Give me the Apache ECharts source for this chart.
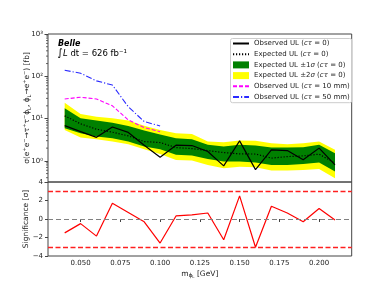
<!DOCTYPE html>
<html>
<head>
<meta charset="utf-8">
<script src="https://cdn.jsdelivr.net/npm/echarts@6/dist/echarts.min.js"></script>
<style>html,body{margin:0;padding:0;background:#fff}#c{width:390px;height:293px}</style>
</head>
<body>
<div id="c"></div>
<script>
const masses = [0.04,0.05,0.06,0.07,0.08,0.09,0.10,0.11,0.12,0.13,0.14,0.15,0.16,0.17,0.18,0.19,0.20,0.21];
const observedUL = [6.8,4.9,3.6,6.3,4.7,2.35,1.22,2.35,2.3,1.66,0.76,2.97,0.62,1.82,1.75,1.06,2.0,0.8];
const expectedUL = [11.6,7.5,5.6,4.76,3.9,2.86,2.71,2.06,1.95,1.75,1.57,1.46,1.45,1.16,1.26,1.31,1.44,0.88];
const exp1sUp = [17.6,10.2,8.95,8.0,6.7,5.2,4.18,3.44,3.26,2.39,2.18,2.39,2.32,2.06,2.06,2.11,2.39,1.52];
const exp1sDn = [5.92,4.5,3.75,3.44,2.86,2.18,1.89,1.39,1.33,1.10,0.96,0.96,0.92,0.80,0.80,0.84,0.91,0.56];
const exp2sUp = [23.8,12.9,11.1,10.2,8.95,6.8,5.4,4.5,4.34,2.86,2.77,3.02,2.97,2.62,2.48,2.62,2.86,1.82];
const exp2sDn = [5.4,3.55,3.26,2.86,2.48,1.89,1.46,1.05,1.02,0.80,0.67,0.73,0.71,0.59,0.59,0.61,0.64,0.39];
const massesLong = [0.04,0.05,0.06,0.07,0.08,0.09,0.10];
const observed10mm = [29,32,29,20,9.3,6.1,4.9];
const observed50mm = [139,118,78,62,19,8.5,6.7];
const significance = [-1.5,-0.5,-1.85,1.7,0.7,-0.3,-2.6,0.33,0.45,0.65,-2.25,2.5,-3.05,1.38,0.65,-0.29,1.13,-0.11];
const xTicks = [0.05,0.075,0.1,0.125,0.15,0.175,0.2];
const yMinorTicks = [0.4,0.5,0.6,0.7,0.8,0.9,2,3,4,5,6,7,8,9,20,30,40,50,60,70,80,90,200,300,400,500,600,700,800,900];
const xMin = 0.0295, xMax = 0.2205;
const yMin = 0.31623, yMax = 1000;

const FONT = 'DejaVu Sans';
const AX = '#444';
const pairs = (xa, ya) => xa.map((x, i) => [x, ya[i]]);
const SUP = ['⁰','¹','²','³'];

const names = {
  obs: 'Observed UL (cτ = 0)',
  exp: 'Expected UL (cτ = 0)',
  s1: 'Expected UL ±1σ (cτ = 0)',
  s2: 'Expected UL ±2σ (cτ = 0)',
  o10: 'Observed UL (cτ = 10 mm)',
  o50: 'Observed UL (cτ = 50 mm)'
};

function band(name, up, dn, color, z) {
  return {
    type: 'custom', name, xAxisIndex: 0, yAxisIndex: 0, z, silent: true,
    itemStyle: { color },
    data: [[masses[0], up[0]]],
    renderItem(params, api) {
      const pts = [];
      for (let i = 0; i < masses.length; i++) pts.push(api.coord([masses[i], up[i]]));
      for (let i = masses.length - 1; i >= 0; i--) pts.push(api.coord([masses[i], dn[i]]));
      return { type: 'polygon', shape: { points: pts }, style: { fill: color } };
    }
  };
}

const noSym = { opacity: 0 };
const chart = echarts.init(document.getElementById('c'), null, { renderer: 'canvas' });
const option = {
  animation: false,
  textStyle: { fontFamily: FONT },
  grid: [
    { left: 48, top: 34, width: 303.7, height: 148, show: true, borderColor: AX, borderWidth: 1, backgroundColor: 'transparent' },
    { left: 48, top: 182, width: 303.7, height: 74, show: true, borderColor: AX, borderWidth: 1, backgroundColor: 'transparent' }
  ],
  xAxis: [
    { gridIndex: 0, type: 'value', min: xMin, max: xMax, axisLabel: { show: false }, axisTick: { show: false }, axisLine: { show: false }, splitLine: { show: false } },
    { gridIndex: 1, type: 'value', min: xMin, max: xMax,
      axisLine: { show: false }, splitLine: { show: false },
      axisTick: { customValues: xTicks, length: 3, lineStyle: { color: AX } },
      axisLabel: { customValues: xTicks, formatter: v => v.toFixed(3), fontSize: 7, color: '#222', margin: 4, fontFamily: FONT },
      name: '{t|m}{s|ϕ}{ss|L}{t| [GeV]}', nameLocation: 'middle', nameGap: 13, nameMoveOverlap: false,
      nameTextStyle: { color: '#222', fontFamily: FONT, rich: {
        t: { fontSize: 7.5, lineHeight: 10, fontFamily: FONT, color: '#222' },
        s: { fontSize: 5.5, lineHeight: 6, verticalAlign: 'bottom', fontFamily: FONT, color: '#222' },
        ss: { fontSize: 4, lineHeight: 4, verticalAlign: 'bottom', fontFamily: FONT, color: '#222' } } } }
  ],
  yAxis: [
    { gridIndex: 0, type: 'log', logBase: 10, min: yMin, max: yMax,
      axisLine: { show: false }, splitLine: { show: false },
      axisTick: { length: 3.5, lineStyle: { color: AX } },
      axisLabel: { fontSize: 7, color: '#222', margin: 5, fontFamily: FONT,
        formatter: v => { const e = Math.log10(v); const r = Math.round(e); return Math.abs(e - r) < 1e-6 && r >= 0 && r <= 3 ? '10' + SUP[r] : ''; } },
      name: '{t|σ(e}{p|+}{t|e}{p|−}{t|→τ}{p|+}{t|τ}{p|−}{t|ϕ}{s|L}{t|, ϕ}{s|L}{t|→e}{p|+}{t|e}{p|−}{t|) [fb]}',
      nameLocation: 'middle', nameGap: 16, nameRotate: 90, nameMoveOverlap: false,
      nameTextStyle: { color: '#222', fontFamily: FONT, rich: {
        t: { fontSize: 7.5, lineHeight: 10, fontFamily: FONT, color: '#222' },
        p: { fontSize: 5, lineHeight: 5, verticalAlign: 'top', fontFamily: FONT, color: '#222' },
        s: { fontSize: 5, lineHeight: 5, verticalAlign: 'bottom', fontFamily: FONT, color: '#222' } } } },
    { gridIndex: 1, type: 'value', min: -4, max: 4, interval: 2,
      axisLine: { show: false }, splitLine: { show: false },
      axisTick: { length: 3, lineStyle: { color: AX } },
      axisLabel: { fontSize: 7, color: '#222', margin: 5, fontFamily: FONT, formatter: v => v < 0 ? '−' + Math.abs(v) : String(v) },
      name: 'Significance [σ]', nameLocation: 'middle', nameGap: 17.5, nameRotate: 90, nameMoveOverlap: false,
      nameTextStyle: { fontSize: 7.5, color: '#222', fontFamily: FONT } }
  ],
  legend: {
    orient: 'vertical', left: 230.5, top: 38.5, padding: [1.5, 2, 2.2, 1.5],
    itemWidth: 16, itemHeight: 7, itemGap: 3.7,
    borderColor: '#ccc', borderWidth: 1, borderRadius: 2, backgroundColor: 'rgba(255,255,255,0.85)',
    textStyle: { fontSize: 7, lineHeight: 7, color: '#222', fontFamily: FONT,
      rich: { i: { fontStyle: 'italic', fontSize: 7, lineHeight: 7, color: '#222', fontFamily: FONT } } },
    formatter: n => n.replace('cτ', '{i|cτ}').replace(/(\d)σ/, '$1{i|σ}'),
    data: [
      { name: names.obs, itemStyle: noSym },
      { name: names.exp, itemStyle: noSym },
      { name: names.s1, icon: 'rect', itemStyle: { color: '#008000', opacity: 1 } },
      { name: names.s2, icon: 'rect', itemStyle: { color: '#ffff00', opacity: 1 } },
      { name: names.o10, itemStyle: noSym },
      { name: names.o50, itemStyle: noSym }
    ]
  },
  graphic: [
    { type: 'text', left: 58, top: 39.5, z: 100, style: { text: 'Belle', font: 'italic bold 8px "DejaVu Sans"', fill: '#000' } },
    { type: 'text', left: 57.5, top: 48, z: 100, style: {
        text: '{a|∫}{b|L}{c| dt = 626 fb⁻¹}', fill: '#000',
        rich: { a: { fontSize: 10.5, fontFamily: FONT, fill: '#000' }, b: { fontSize: 8.5, fontStyle: 'italic', fontFamily: FONT, fill: '#000' }, c: { fontSize: 8.5, fontFamily: FONT, fill: '#000' } } } }
  ],
  series: [
    band(names.s2, exp2sUp, exp2sDn, '#ffff00', 1),
    band(names.s1, exp1sUp, exp1sDn, '#008000', 2),
    { type: 'custom', name: 'minorTicks', xAxisIndex: 0, yAxisIndex: 0, z: 5, silent: true, clip: false,
      data: [[xMin, 1]],
      renderItem(params, api) {
        const children = yMinorTicks.map(v => {
          const p = api.coord([xMin, v]);
          return { type: 'line', shape: { x1: p[0] - 2, y1: p[1], x2: p[0], y2: p[1] }, style: { stroke: AX, lineWidth: 0.8 } };
        });
        return { type: 'group', children };
      } },
    { type: 'line', name: names.obs, xAxisIndex: 0, yAxisIndex: 0, z: 4, symbol: 'none', data: pairs(masses, observedUL),
      lineStyle: { color: '#000', width: 1.2 }, itemStyle: { color: '#000' } },
    { type: 'line', name: names.exp, xAxisIndex: 0, yAxisIndex: 0, z: 4, symbol: 'none', data: pairs(masses, expectedUL),
      lineStyle: { color: '#000', width: 1.2, type: [1.2, 1.8] }, itemStyle: { color: '#000' } },
    { type: 'line', name: names.o10, xAxisIndex: 0, yAxisIndex: 0, z: 4, symbol: 'none', data: pairs(massesLong, observed10mm),
      lineStyle: { color: '#ff00ff', width: 1.1, type: [4, 2] }, itemStyle: { color: '#ff00ff' } },
    { type: 'line', name: names.o50, xAxisIndex: 0, yAxisIndex: 0, z: 4, symbol: 'none', data: pairs(massesLong, observed50mm),
      lineStyle: { color: '#2a2aff', width: 1.1, type: [6, 2, 1.2, 2] }, itemStyle: { color: '#2a2aff' } },
    { type: 'line', name: 'significance', xAxisIndex: 1, yAxisIndex: 1, z: 4, symbol: 'none', data: pairs(masses, significance),
      lineStyle: { color: '#ff0000', width: 1.2 }, itemStyle: { color: '#ff0000' },
      markLine: { silent: true, symbol: 'none', label: { show: false },
        data: [
          { yAxis: 3, lineStyle: { color: '#ff2020', width: 1.4, type: [5, 2.5] } },
          { yAxis: -3, lineStyle: { color: '#ff2020', width: 1.4, type: [5, 2.5] } },
          { yAxis: 0, lineStyle: { color: '#808080', width: 1.1, type: [5, 3] } }
        ] } }
  ]
};
chart.setOption(option);
</script>
</body>
</html>
